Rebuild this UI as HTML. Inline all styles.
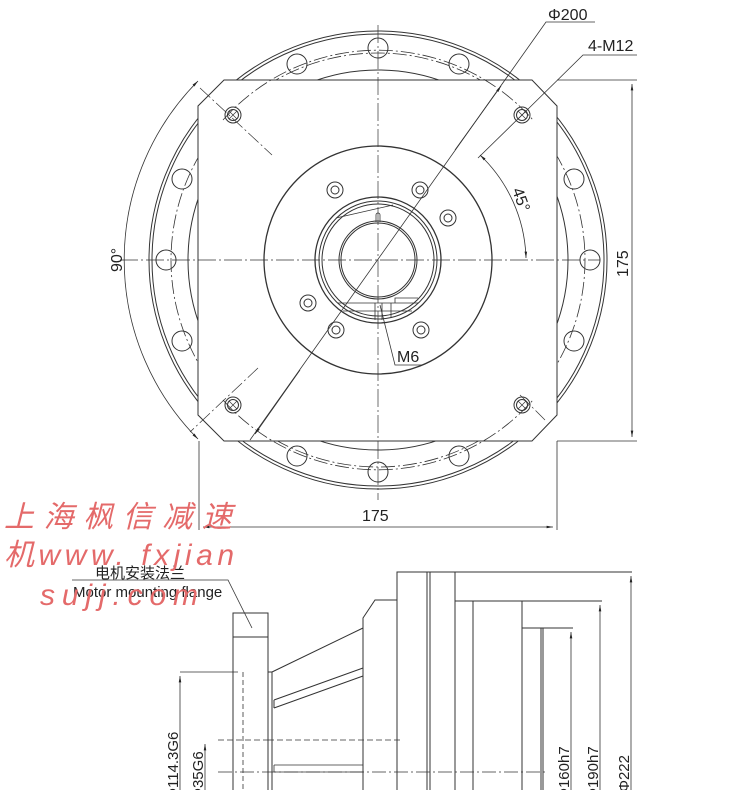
<!DOCTYPE html>
<html><head><meta charset="utf-8"><style>
html,body{margin:0;padding:0;background:#fff;}
svg{display:block;}
text{font-family:"Liberation Sans Narrow","Liberation Sans","Noto Sans CJK SC",sans-serif;fill:#222;}
.w{font-family:"Liberation Sans","Noto Sans CJK SC",sans-serif;font-style:italic;fill:#e46a6a;}
</style></head><body>
<svg width="750" height="790" viewBox="0 0 750 790" xmlns="http://www.w3.org/2000/svg">
<defs>
<marker id="a" viewBox="0 0 10 10" refX="10" refY="5" markerWidth="8" markerHeight="8" orient="auto-start-reverse"><path d="M0,3 L10,5 L0,7z" fill="#222"/></marker>
</defs>
<g fill="none" stroke="#333" stroke-width="1">
<circle cx="378" cy="260" r="229"/>
<circle cx="378" cy="260" r="226"/>
<circle cx="378" cy="260" r="190"/>
<circle cx="378" cy="260" r="207" stroke-dasharray="14 3 2 3" stroke-width="0.8"/>
<g>
<circle cx="378" cy="48" r="10"/><circle cx="378" cy="472" r="10"/>
<circle cx="166" cy="260" r="10"/><circle cx="590" cy="260" r="10"/>
<circle cx="297" cy="64" r="10"/><circle cx="459" cy="64" r="10"/>
<circle cx="297" cy="456" r="10"/><circle cx="459" cy="456" r="10"/>
<circle cx="182" cy="179" r="10"/><circle cx="574" cy="179" r="10"/>
<circle cx="182" cy="341" r="10"/><circle cx="574" cy="341" r="10"/>
</g>
<path d="M224,80 L532,80 L557,106 L557,415 L532,441 L224,441 L198,415 L198,106 Z" fill="#fff"/>
<g>
<circle cx="233" cy="115" r="8"/><circle cx="233" cy="115" r="5.5"/>
<circle cx="522" cy="115" r="8"/><circle cx="522" cy="115" r="5.5"/>
<circle cx="233" cy="405" r="8"/><circle cx="233" cy="405" r="5.5"/>
<circle cx="522" cy="405" r="8"/><circle cx="522" cy="405" r="5.5"/>
<path d="M229,111l8,8M237,111l-8,8M518,111l8,8M526,111l-8,8M229,401l8,8M237,401l-8,8M518,401l8,8M526,401l-8,8" stroke-width="0.7"/>
</g>
<path d="M223,120 A207,207 0 0 1 533,120" stroke-dasharray="14 3 2 3" stroke-width="0.8"/>
<path d="M223,400 A207,207 0 0 0 533,400" stroke-dasharray="14 3 2 3" stroke-width="0.8"/>
<path d="M378,25 V500 M120,260 H600" stroke-dasharray="18 3 2 3" stroke-width="0.7"/>
<path d="M200,88 L272,155 M258,368 L190,432 M520,395 L545,420" stroke-dasharray="14 3 2 3" stroke-width="0.7"/>
<circle cx="378" cy="260" r="114" stroke-width="1.3"/>
<circle cx="378" cy="260" r="63" stroke-width="1.3"/>
<circle cx="378" cy="260" r="59"/>
<circle cx="378" cy="260" r="56"/>
<circle cx="378" cy="260" r="39"/>
<circle cx="378" cy="260" r="37"/>
<g>
<circle cx="335" cy="190" r="8"/><circle cx="335" cy="190" r="4"/>
<circle cx="420" cy="190" r="8"/><circle cx="420" cy="190" r="4"/>
<circle cx="448" cy="218" r="8"/><circle cx="448" cy="218" r="4"/>
<circle cx="308" cy="303" r="8"/><circle cx="308" cy="303" r="4"/>
<circle cx="336" cy="330" r="8"/><circle cx="336" cy="330" r="4"/>
<circle cx="421" cy="330" r="8"/><circle cx="421" cy="330" r="4"/>
</g>
<path d="M336,218 L393,205 M376,222 V215 A2,2 0 0 1 380,215 V222" stroke-width="0.8"/>
<path d="M338,303 H391 V318 M391,303 H418 M395,303 V298 H418 M343,311 H412 M375,303 V320 M382,303 V320" stroke-width="0.8"/>
<path d="M250,440 L546,22 H595" stroke-width="0.8"/>
<path d="M300,370 L255,434" marker-end="url(#a)" stroke-width="0.8"/>
<path d="M455,150 L501,86" marker-end="url(#a)" stroke-width="0.8"/>
<path d="M522,115 L583,55 H637 M525,112 L478,158" stroke-width="0.8"/>
<path d="M480,155 A148,148 0 0 1 526,258" marker-start="url(#a)" marker-end="url(#a)" stroke-width="0.8"/>
<path d="M198,81 A254,254 0 0 0 198,439" marker-start="url(#a)" marker-end="url(#a)" stroke-width="0.8"/>
<path d="M557,80 H637 M557,441 H637 M199,441 V530 M557,441 V530" stroke-width="0.8"/>
<path d="M632,84 V437" marker-start="url(#a)" marker-end="url(#a)" stroke-width="0.8"/>
<path d="M203,527 H553" marker-start="url(#a)" marker-end="url(#a)" stroke-width="0.8"/>
<path d="M380,305 L395,365 H422" stroke-width="0.8"/>

<path d="M72,580 H228 L252,628" stroke-width="0.8"/>
<path d="M233,790 V613 H268 V790 M233,637 H268"/>
<path d="M243,672 V790" stroke-dasharray="5 3" stroke-width="0.8"/>
<path d="M268,672 H272 V790"/>
<path d="M272,672 L363,628 M363,790 V618 L375,600 H397"/>
<path d="M274,700 L363,668 M274,708 L363,676 M274,700 V708"/>
<path d="M274,765 H363 M274,772 H363 M274,765 V772" stroke-width="0.8"/>
<path d="M397,790 V572 H632 M427,790 V572 M430,790 V572 M455,790 V572 M455,601 H602 M473,790 V601 M522,790 V601 M522,628 H573 M541,790 V628 M543,790 V628"/>
<path d="M268,740 H400 M218,740 H268" stroke-dasharray="6 3" stroke-width="0.8"/>
<path d="M218,772 H548" stroke-dasharray="14 3 2 3" stroke-width="0.8"/>
<path d="M180,672 H238" stroke-width="0.8"/>
<path d="M180,790 V676" marker-end="url(#a)" stroke-width="0.8"/>
<path d="M205,790 V744" marker-end="url(#a)" stroke-width="0.8"/>
<path d="M571,790 V632" marker-end="url(#a)" stroke-width="0.8"/>
<path d="M600,790 V605" marker-end="url(#a)" stroke-width="0.8"/>
<path d="M631,790 V576" marker-end="url(#a)" stroke-width="0.8"/>
</g>
<text x="548" y="20" font-size="16">Φ200</text>
<text x="588" y="51" font-size="16">4-M12</text>
<text x="397" y="362" font-size="16">M6</text>
<text x="362" y="521" font-size="16">175</text>
<text transform="translate(628,277) rotate(-90)" font-size="16">175</text>
<text transform="translate(122,272) rotate(-90)" font-size="16">90°</text>
<text transform="translate(512,190) rotate(70)" font-size="16">45°</text>
<text x="95" y="578" font-size="15">电机安装法兰</text>
<text x="73" y="597" font-size="15">Motor mounting flange</text>
<text transform="translate(178,800) rotate(-90)" font-size="15">Φ114.3G6</text>
<text transform="translate(203,800) rotate(-90)" font-size="15">Φ35G6</text>
<text transform="translate(569,800) rotate(-90)" font-size="15">Φ160h7</text>
<text transform="translate(598,800) rotate(-90)" font-size="15">Φ190h7</text>
<text transform="translate(629,792) rotate(-90)" font-size="15">Φ222</text>
<text class="w" x="4" y="527" font-size="30" textLength="228" lengthAdjust="spacing">上海枫信减速</text>
<text class="w" x="4" y="565" font-size="30" textLength="230" lengthAdjust="spacing">机www. fxjian</text>
<text class="w" x="40" y="605" font-size="30" textLength="158" lengthAdjust="spacing">sujj.com</text>
</svg>
</body></html>
